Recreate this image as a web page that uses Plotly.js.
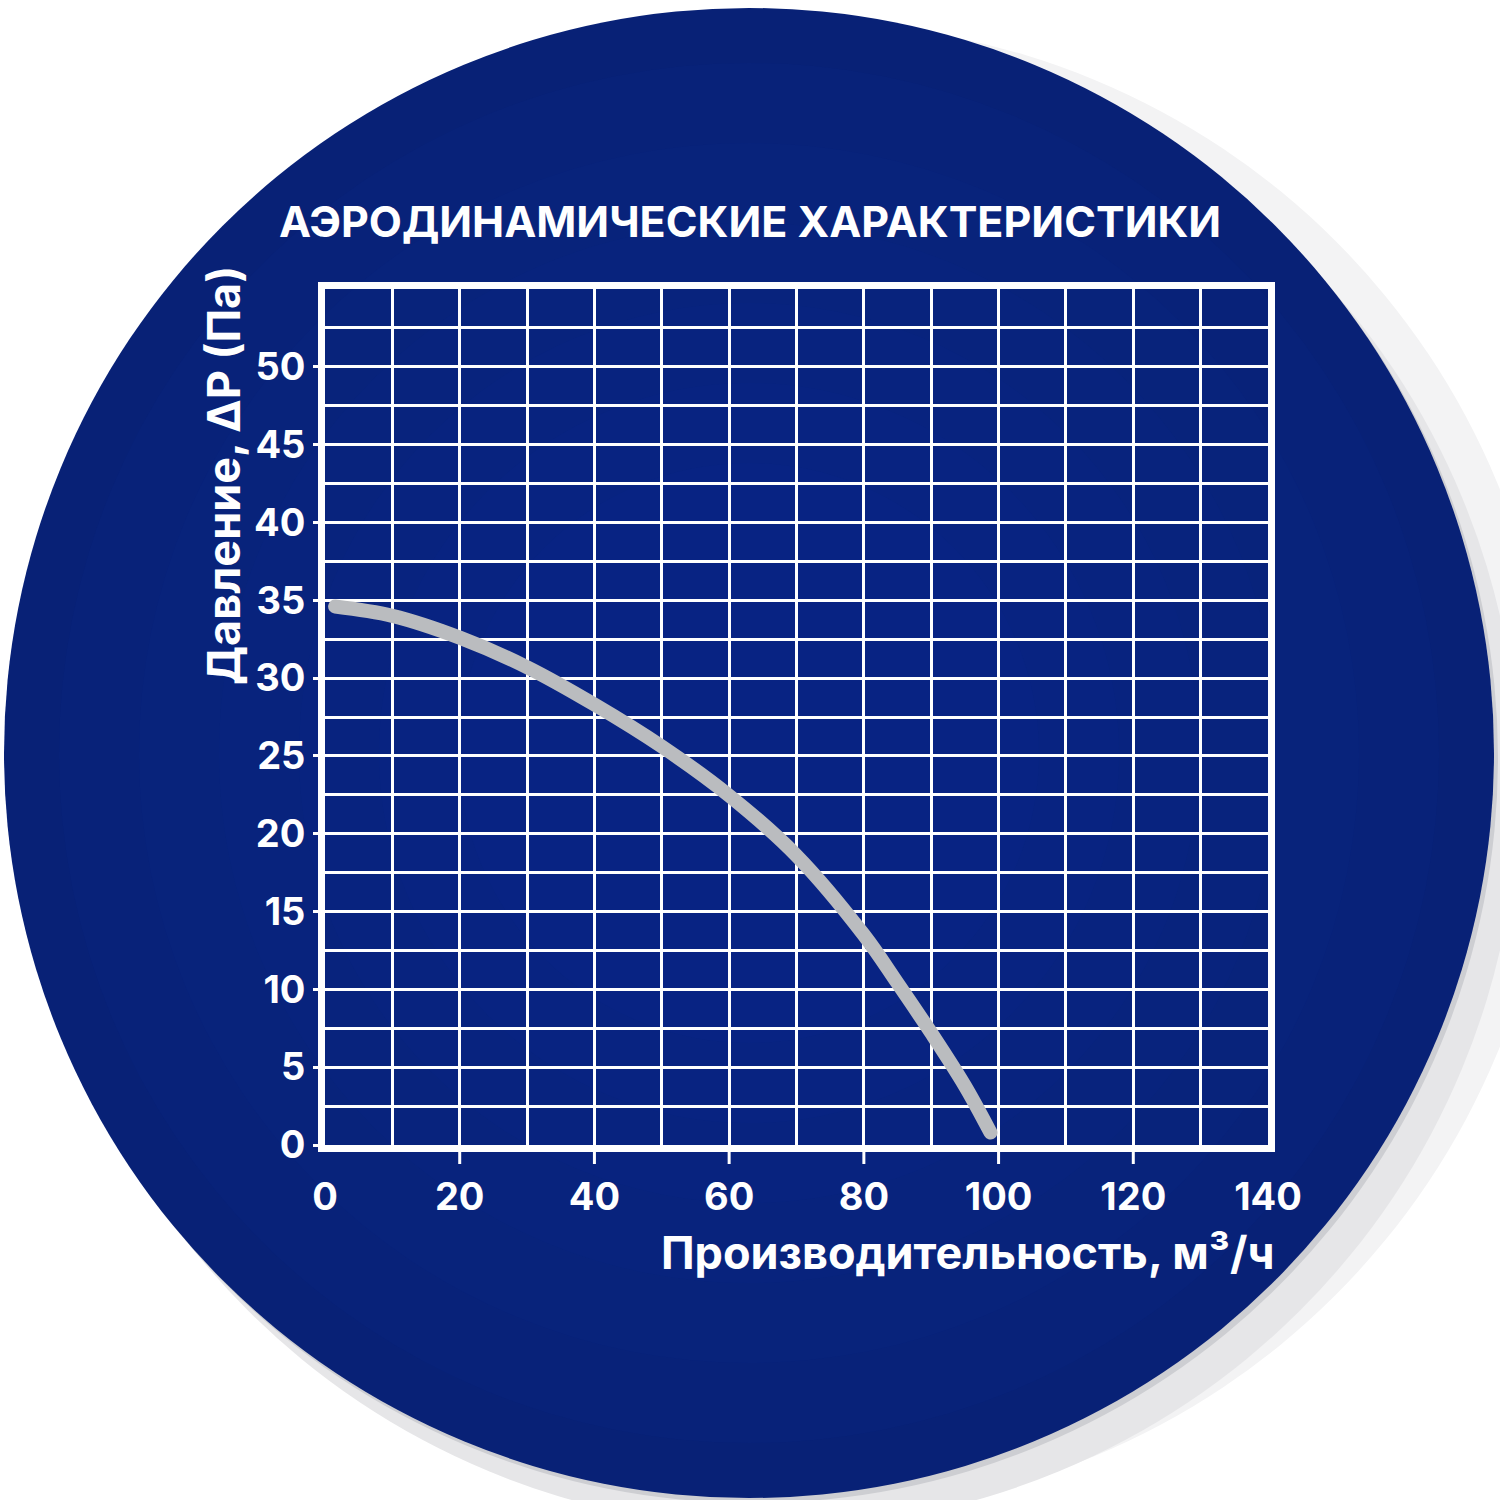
<!DOCTYPE html>
<html>
<head>
<meta charset="utf-8">
<script src="https://cdn.plot.ly/plotly-3.0.1.min.js"></script>
<style>
html,body{margin:0;padding:0;background:#ffffff;}
#chart{width:1500px;height:1500px;}
.scatterlayer .js-line{stroke-linecap:round;stroke-linejoin:round;}
</style>
</head>
<body>
<div id="chart"></div>
<script>
// ---- data ----
const flowRate = [1.5, 10, 20, 30, 40, 50, 60, 70, 80, 85, 90, 95, 98.8];
const pressure = [34.6, 34.0, 32.6, 30.7, 28.3, 25.6, 22.45, 18.6, 13.5, 10.4, 7.2, 3.8, 0.8];
const xTickVals = [0, 20, 40, 60, 80, 100, 120, 140];
const xTickText = ['0', '20', '40', '60', '80', '100', '120', '140'];
const xTickMarks = [20, 40, 60, 80, 100, 120];
const yTickVals = [0, 5, 10, 15, 20, 25, 30, 35, 40, 45, 50];
const yTickText = ['0', '5', '10', '15', '20', '25', '30', '35', '40', '45', '50'];
const chartTitle = 'АЭРОДИНАМИЧЕСКИЕ ХАРАКТЕРИСТИКИ';
const xTitle = 'Производительность, м³/ч';
const yTitle = 'Давление, ΔP (Па)';

// ---- geometry (pixels) ----
const W = 1500, H = 1500;
const L = 325, R = 1268, T = 289, B = 1145;
const px = x => (x - L) / (R - L);
const py = y => (B - y) / (B - T);
function circle(cx, cy, r, fill) {
  return {type: 'circle', xref: 'paper', yref: 'paper', layer: 'below',
    x0: px(cx - r), x1: px(cx + r), y0: py(cy + r), y1: py(cy - r),
    fillcolor: fill, line: {width: 0}};
}
const CX = 749, CY = 753, CR = 745;
const shapes = [
  circle(CX + 60, CY + 15, CR, '#f3f3f4'),
  circle(CX + 25, CY + 30, CR, '#e6e6e8'),
  circle(CX + 4, CY + 5, CR, '#cdced2'),
  circle(CX, CY, CR, '#082176')
];
[690, 610, 530, 450, 370, 290].forEach(r => shapes.push(circle(CX, CY, r, 'rgba(22,58,170,0.06)')));

const white = '#ffffff';
// outside tick marks on the x axis (only between the corners)
xTickMarks.forEach(v => shapes.push({
  type: 'line', xref: 'x', yref: 'paper', layer: 'above',
  x0: v, x1: v, y0: py(1150), y1: py(1164),
  line: {color: white, width: 3}
}));

const FONT = 'Inter, "Open Sans", sans-serif';

const curve = {
  x: flowRate, y: pressure, type: 'scatter', mode: 'lines',
  line: {color: '#babcbf', width: 14, shape: 'spline', smoothing: 1},
  hoverinfo: 'skip', showlegend: false
};

const axisCommon = {
  showline: true, mirror: true, linecolor: white, linewidth: 7,
  showgrid: true, gridcolor: white, gridwidth: 3, zeroline: false,
  tickcolor: white, tickwidth: 3, ticks: 'outside',
  tickfont: {family: FONT, size: 38, color: white, weight: 700},
  fixedrange: true
};

const layout = {
  width: W, height: H,
  margin: {l: L, r: W - R, t: T, b: H - B, pad: 0},
  paper_bgcolor: '#ffffff', plot_bgcolor: 'rgba(0,0,0,0)',
  showlegend: false,
  title: {text: chartTitle, x: 0.5, xref: 'container', xanchor: 'center',
    y: 1 - 222 / H, yref: 'container', yanchor: 'middle',
    font: {family: FONT, size: 43, color: white, weight: 700}},
  xaxis: Object.assign({}, axisCommon, {
    range: [0, 140], tickmode: 'array', tickvals: xTickVals, ticktext: xTickText,
    ticklen: 12, tickcolor: 'rgba(0,0,0,0)', ticklabelstandoff: 0,
    minor: {tickmode: 'linear', tick0: 0, dtick: 10, showgrid: true, gridcolor: white, gridwidth: 3, ticks: ''}
  }),
  yaxis: Object.assign({}, axisCommon, {
    range: [0, 55], tickmode: 'array', tickvals: yTickVals, ticktext: yTickText,
    ticklen: 5, ticklabelstandoff: 0,
    minor: {tickmode: 'linear', tick0: 0, dtick: 2.5, showgrid: true, gridcolor: white, gridwidth: 3, ticks: ''}
  }),
  shapes: shapes,
  annotations: [
    {text: xTitle, xref: 'paper', yref: 'paper', x: px(1276), y: py(1252),
      xanchor: 'right', yanchor: 'middle', showarrow: false,
      font: {family: FONT, size: 45, color: white, weight: 700}},
    {text: yTitle, xref: 'paper', yref: 'paper', x: px(223), y: py(476),
      xanchor: 'center', yanchor: 'middle', textangle: -90, showarrow: false,
      font: {family: FONT, size: 45, color: white, weight: 700}}
  ]
};

Plotly.newPlot('chart', [curve], layout, {staticPlot: true, displayModeBar: false});
</script>
</body>
</html>
